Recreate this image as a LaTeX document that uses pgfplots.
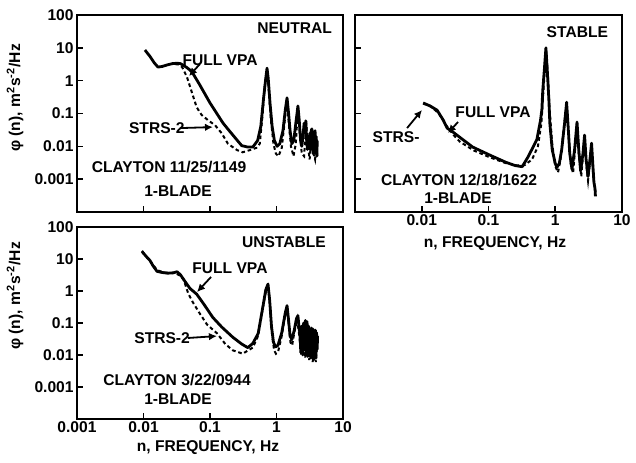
\documentclass[border=0pt]{standalone}
\usepackage{fontspec}
\setmainfont{Liberation Sans}
\usepackage{pgfplots}
\pgfplotsset{compat=1.18}
\usetikzlibrary{arrows.meta}

\newcommand{\lbl}{\fontsize{7.8}{9}\selectfont\bfseries}
\newcommand{\ylab}{φ (n), m\textsuperscript{2}s\textsuperscript{-2}/Hz}

\pgfplotsset{
  every axis/.append style={
    scale only axis, anchor=south west,
    xmin=1e-3, xmax=10, ymin=1e-4, ymax=100,
    axis line style={line width=1.1pt},
    tick align=inside, major tick length=3pt,
    tick style={line width=0.8pt, black},
    xminorticks=false, yminorticks=false,
    xtick={0.001,0.01,0.1,1,10},
    ytick={0.001,0.01,0.1,1,10,100},
    xtick pos=bottom, ytick pos=left,
    tick label style={font=\lbl},
    xticklabel style={inner sep=1pt},
    yticklabel style={inner sep=1.5pt},
  },
}
\tikzset{
  fullvpa/.style={black, line width=1.4pt, line join=round},
  strsline/.style={black, line width=1pt, dash pattern=on 1.8pt off 1.4pt},
  annarrow/.style={line width=0.9pt, -{Latex[length=4pt,width=3.8pt]}},
}

\begin{document}
\begin{tikzpicture}
\useasboundingbox (0,0) rectangle (318pt,231pt);

% ---- NEUTRAL (top left)
\begin{loglogaxis}[at={(38.5pt,125pt)}, width=133pt, height=98.5pt,
  xticklabels={}, yticklabels={0.001,0.01,0.1,1,10,100}]
\addplot[strsline] coordinates {
 (0.03,3.2) (0.034,3.1) (0.038,2.6) (0.045,1.3) (0.054,0.41) (0.063,0.155)
 (0.075,0.09) (0.093,0.063) (0.119,0.044) (0.15,0.025) (0.186,0.012)
 (0.255,0.0077) (0.31,0.0066) (0.4,0.0077) (0.5,0.009) (0.56,0.012)
 (0.62,0.1) (0.66,0.6) (0.72,2.2) (0.76,0.6) (0.82,0.07) (0.9,0.012)
 (0.98,0.006) (1.07,0.005) (1.2,0.009) (1.33,0.06) (1.44,0.28) (1.53,0.05)
 (1.65,0.01) (1.8,0.005) (1.95,0.012) (2.1,0.15) (2.22,0.03) (2.4,0.006)
 (2.6,0.005) (2.8,0.05) (2.95,0.012) (3.15,0.004) (3.4,0.03) (3.6,0.006)
 (3.8,0.004) (4.0,0.012) (4.1,0.005)
};
\addplot[fullvpa] coordinates {
 (0.0105,8.6) (0.0125,5.5) (0.0145,3.5) (0.0165,2.6) (0.019,2.7) (0.0225,3.0)
 (0.027,3.3) (0.032,3.4) (0.036,3.3) (0.039,3.0) (0.045,2.5) (0.05,2.1)
 (0.055,1.7) (0.07,0.75) (0.1,0.21) (0.157,0.051) (0.2,0.028) (0.255,0.0155)
 (0.3,0.0105) (0.37,0.0095) (0.44,0.0095) (0.52,0.015) (0.58,0.04) (0.64,0.3)
 (0.69,1.2) (0.72,2.4) (0.75,1.2) (0.8,0.2) (0.86,0.04) (0.93,0.015)
 (1.02,0.01) (1.12,0.012) (1.25,0.03) (1.35,0.12) (1.44,0.3) (1.52,0.1)
 (1.6,0.03) (1.7,0.012) (1.82,0.015) (1.95,0.05) (2.1,0.17) (2.2,0.06)
 (2.3,0.015) (2.4,0.01) (2.5,0.02) (2.6,0.05) (2.7,0.04) (2.76,0.06)
 (2.84,0.015) (2.92,0.008) (3.0,0.02) (3.08,0.01) (3.16,0.025) (3.24,0.008)
 (3.32,0.03) (3.4,0.034) (3.48,0.01) (3.56,0.006) (3.64,0.025) (3.72,0.008)
 (3.8,0.03) (3.88,0.006) (3.96,0.02) (4.04,0.005) (4.1,0.015)
};
\node[font=\lbl, anchor=east] at (rel axis cs:0.985,0.935) {NEUTRAL};
\node[font=\lbl] at (rel axis cs:0.538,0.772) {FULL VPA};
\draw[annarrow] (rel axis cs:0.462,0.751) -- (rel axis cs:0.421,0.69);
\node[font=\lbl] at (rel axis cs:0.30,0.426) {STRS-2};
\draw[annarrow] (rel axis cs:0.387,0.426) -- (rel axis cs:0.511,0.431);
\node[font=\lbl] at (rel axis cs:0.346,0.228) {CLAYTON 11/25/1149};
\node[font=\lbl] at (rel axis cs:0.38,0.107) {1-BLADE};
\end{loglogaxis}

% ---- STABLE (top right)
\begin{loglogaxis}[at={(177.5pt,125pt)}, width=133.5pt, height=98.5pt,
  xticklabels={{},0.01,0.1,1,10}, yticklabels={}]
\addplot[strsline] coordinates {
 (0.0105,0.2) (0.0135,0.17) (0.018,0.1) (0.023,0.045) (0.03,0.022)
 (0.037,0.014) (0.06,0.0075) (0.1,0.0048) (0.18,0.0031) (0.27,0.0026)
 (0.35,0.0027) (0.45,0.004) (0.55,0.01) (0.62,0.05) (0.68,1.0) (0.725,9.5)
 (0.77,2) (0.82,0.15) (0.9,0.012) (1.0,0.0025) (1.1,0.0016) (1.2,0.004)
 (1.35,0.04) (1.48,0.2) (1.57,0.03) (1.7,0.003) (1.85,0.0015) (2.0,0.01)
 (2.12,0.05) (2.25,0.006) (2.45,0.0012) (2.6,0.005) (2.75,0.02) (2.9,0.003)
 (3.1,0.0009) (3.35,0.004) (3.5,0.012) (3.65,0.002) (3.85,0.0006) (4.0,0.0004)
};
\addplot[fullvpa] coordinates {
 (0.0105,0.21) (0.0133,0.17) (0.017,0.126) (0.021,0.063) (0.024,0.036)
 (0.0295,0.027) (0.037,0.019) (0.058,0.0095) (0.105,0.0054) (0.18,0.0033)
 (0.25,0.0026) (0.32,0.0024) (0.39,0.0047) (0.53,0.016) (0.6,0.06)
 (0.63,0.13) (0.65,0.5) (0.69,2.5) (0.725,10) (0.76,2) (0.8,0.3) (0.83,0.05)
 (0.9,0.008) (1.0,0.003) (1.06,0.0023) (1.15,0.003) (1.25,0.008) (1.38,0.05)
 (1.48,0.22) (1.56,0.04) (1.65,0.006) (1.78,0.002) (1.95,0.008) (2.12,0.055)
 (2.25,0.008) (2.4,0.0018) (2.6,0.006) (2.75,0.022) (2.9,0.004) (3.1,0.0012)
 (3.35,0.005) (3.5,0.0125) (3.65,0.003) (3.8,0.0008) (3.95,0.0005) (4.0,0.0003)
};
\node[font=\lbl, anchor=east] at (rel axis cs:0.974,0.914) {STABLE};
\node[font=\lbl] at (rel axis cs:0.517,0.508) {FULL VPA};
\draw[annarrow] (rel axis cs:0.386,0.457) -- (rel axis cs:0.348,0.401);
\node[font=\lbl] at (rel axis cs:0.154,0.381) {STRS-};
\draw[annarrow] (rel axis cs:0.195,0.426) -- (rel axis cs:0.251,0.518);
\node[font=\lbl] at (rel axis cs:0.39,0.162) {CLAYTON 12/18/1622};
\node[font=\lbl] at (rel axis cs:0.386,0.071) {1-BLADE};
\end{loglogaxis}

% ---- UNSTABLE (bottom left)
\begin{loglogaxis}[at={(38.5pt,21.5pt)}, width=133pt, height=96pt,
  xticklabels={0.001,0.01,0.1,1,10},
  yticklabels={0.001,0.01,0.1,1,10,100}]
\addplot[strsline] coordinates {
 (0.0095,18) (0.011,12) (0.013,8) (0.016,4.5) (0.02,3.8) (0.025,3.7)
 (0.03,3.6) (0.036,3.0) (0.04,2.3) (0.047,0.85) (0.055,0.45) (0.07,0.2)
 (0.09,0.09) (0.127,0.048) (0.17,0.022) (0.22,0.014) (0.31,0.011)
 (0.44,0.017) (0.53,0.04) (0.62,0.28) (0.7,1.1) (0.745,1.5) (0.79,0.45)
 (0.85,0.05) (0.92,0.014) (0.98,0.011) (1.06,0.013) (1.2,0.04) (1.35,0.18)
 (1.44,0.3) (1.52,0.1) (1.62,0.025) (1.72,0.02) (1.85,0.05) (2.05,0.13)
 (2.2,0.04) (2.35,0.01) (2.5,0.06) (2.7,0.008) (2.9,0.08) (3.1,0.007)
 (3.3,0.05) (3.5,0.006) (3.7,0.04) (3.9,0.006) (4.1,0.03)
};
\addplot[fullvpa] coordinates {
 (0.0095,17) (0.011,12) (0.0125,9) (0.014,6) (0.016,4.1) (0.019,3.8)
 (0.023,3.6) (0.028,3.7) (0.032,4.0) (0.036,3.2) (0.042,2.0) (0.05,1.2)
 (0.063,0.8) (0.08,0.4) (0.11,0.15) (0.15,0.075) (0.22,0.036) (0.3,0.022)
 (0.37,0.017) (0.44,0.023) (0.53,0.047) (0.62,0.3) (0.69,1.1) (0.745,1.65)
 (0.79,0.5) (0.84,0.08) (0.9,0.025) (0.97,0.018) (1.05,0.02) (1.2,0.05)
 (1.35,0.2) (1.44,0.35) (1.52,0.12) (1.6,0.04) (1.7,0.03) (1.85,0.06)
 (2.0,0.14) (2.1,0.17) (2.2,0.06) (2.25,0.05) (2.32,0.012) (2.4,0.08)
 (2.48,0.01) (2.56,0.1) (2.64,0.015) (2.72,0.12) (2.8,0.01) (2.88,0.11)
 (2.96,0.009) (3.04,0.08) (3.12,0.012) (3.2,0.06) (3.28,0.008) (3.36,0.07)
 (3.44,0.01) (3.52,0.065) (3.6,0.007) (3.68,0.05) (3.76,0.01) (3.84,0.06)
 (3.92,0.008) (4.0,0.05) (4.08,0.015) (4.15,0.04)
};
\node[font=\lbl, anchor=east] at (rel axis cs:0.962,0.922) {UNSTABLE};
\node[font=\lbl] at (rel axis cs:0.575,0.786) {FULL VPA};
\draw[annarrow] (rel axis cs:0.504,0.74) -- (rel axis cs:0.451,0.661);
\node[font=\lbl] at (rel axis cs:0.32,0.422) {STRS-2};
\draw[annarrow] (rel axis cs:0.417,0.422) -- (rel axis cs:0.526,0.432);
\node[font=\lbl] at (rel axis cs:0.376,0.203) {CLAYTON 3/22/0944};
\node[font=\lbl] at (rel axis cs:0.38,0.104) {1-BLADE};
\end{loglogaxis}

% axis titles
\node[font=\lbl, rotate=90] at (7.5pt,182pt) {\ylab};
\node[font=\lbl, rotate=90] at (7.5pt,83pt) {\ylab};
\node[font=\lbl] at (104pt,7pt) {n, FREQUENCY, Hz};
\node[font=\lbl] at (247.5pt,109pt) {n, FREQUENCY, Hz};
\end{tikzpicture}
\end{document}
